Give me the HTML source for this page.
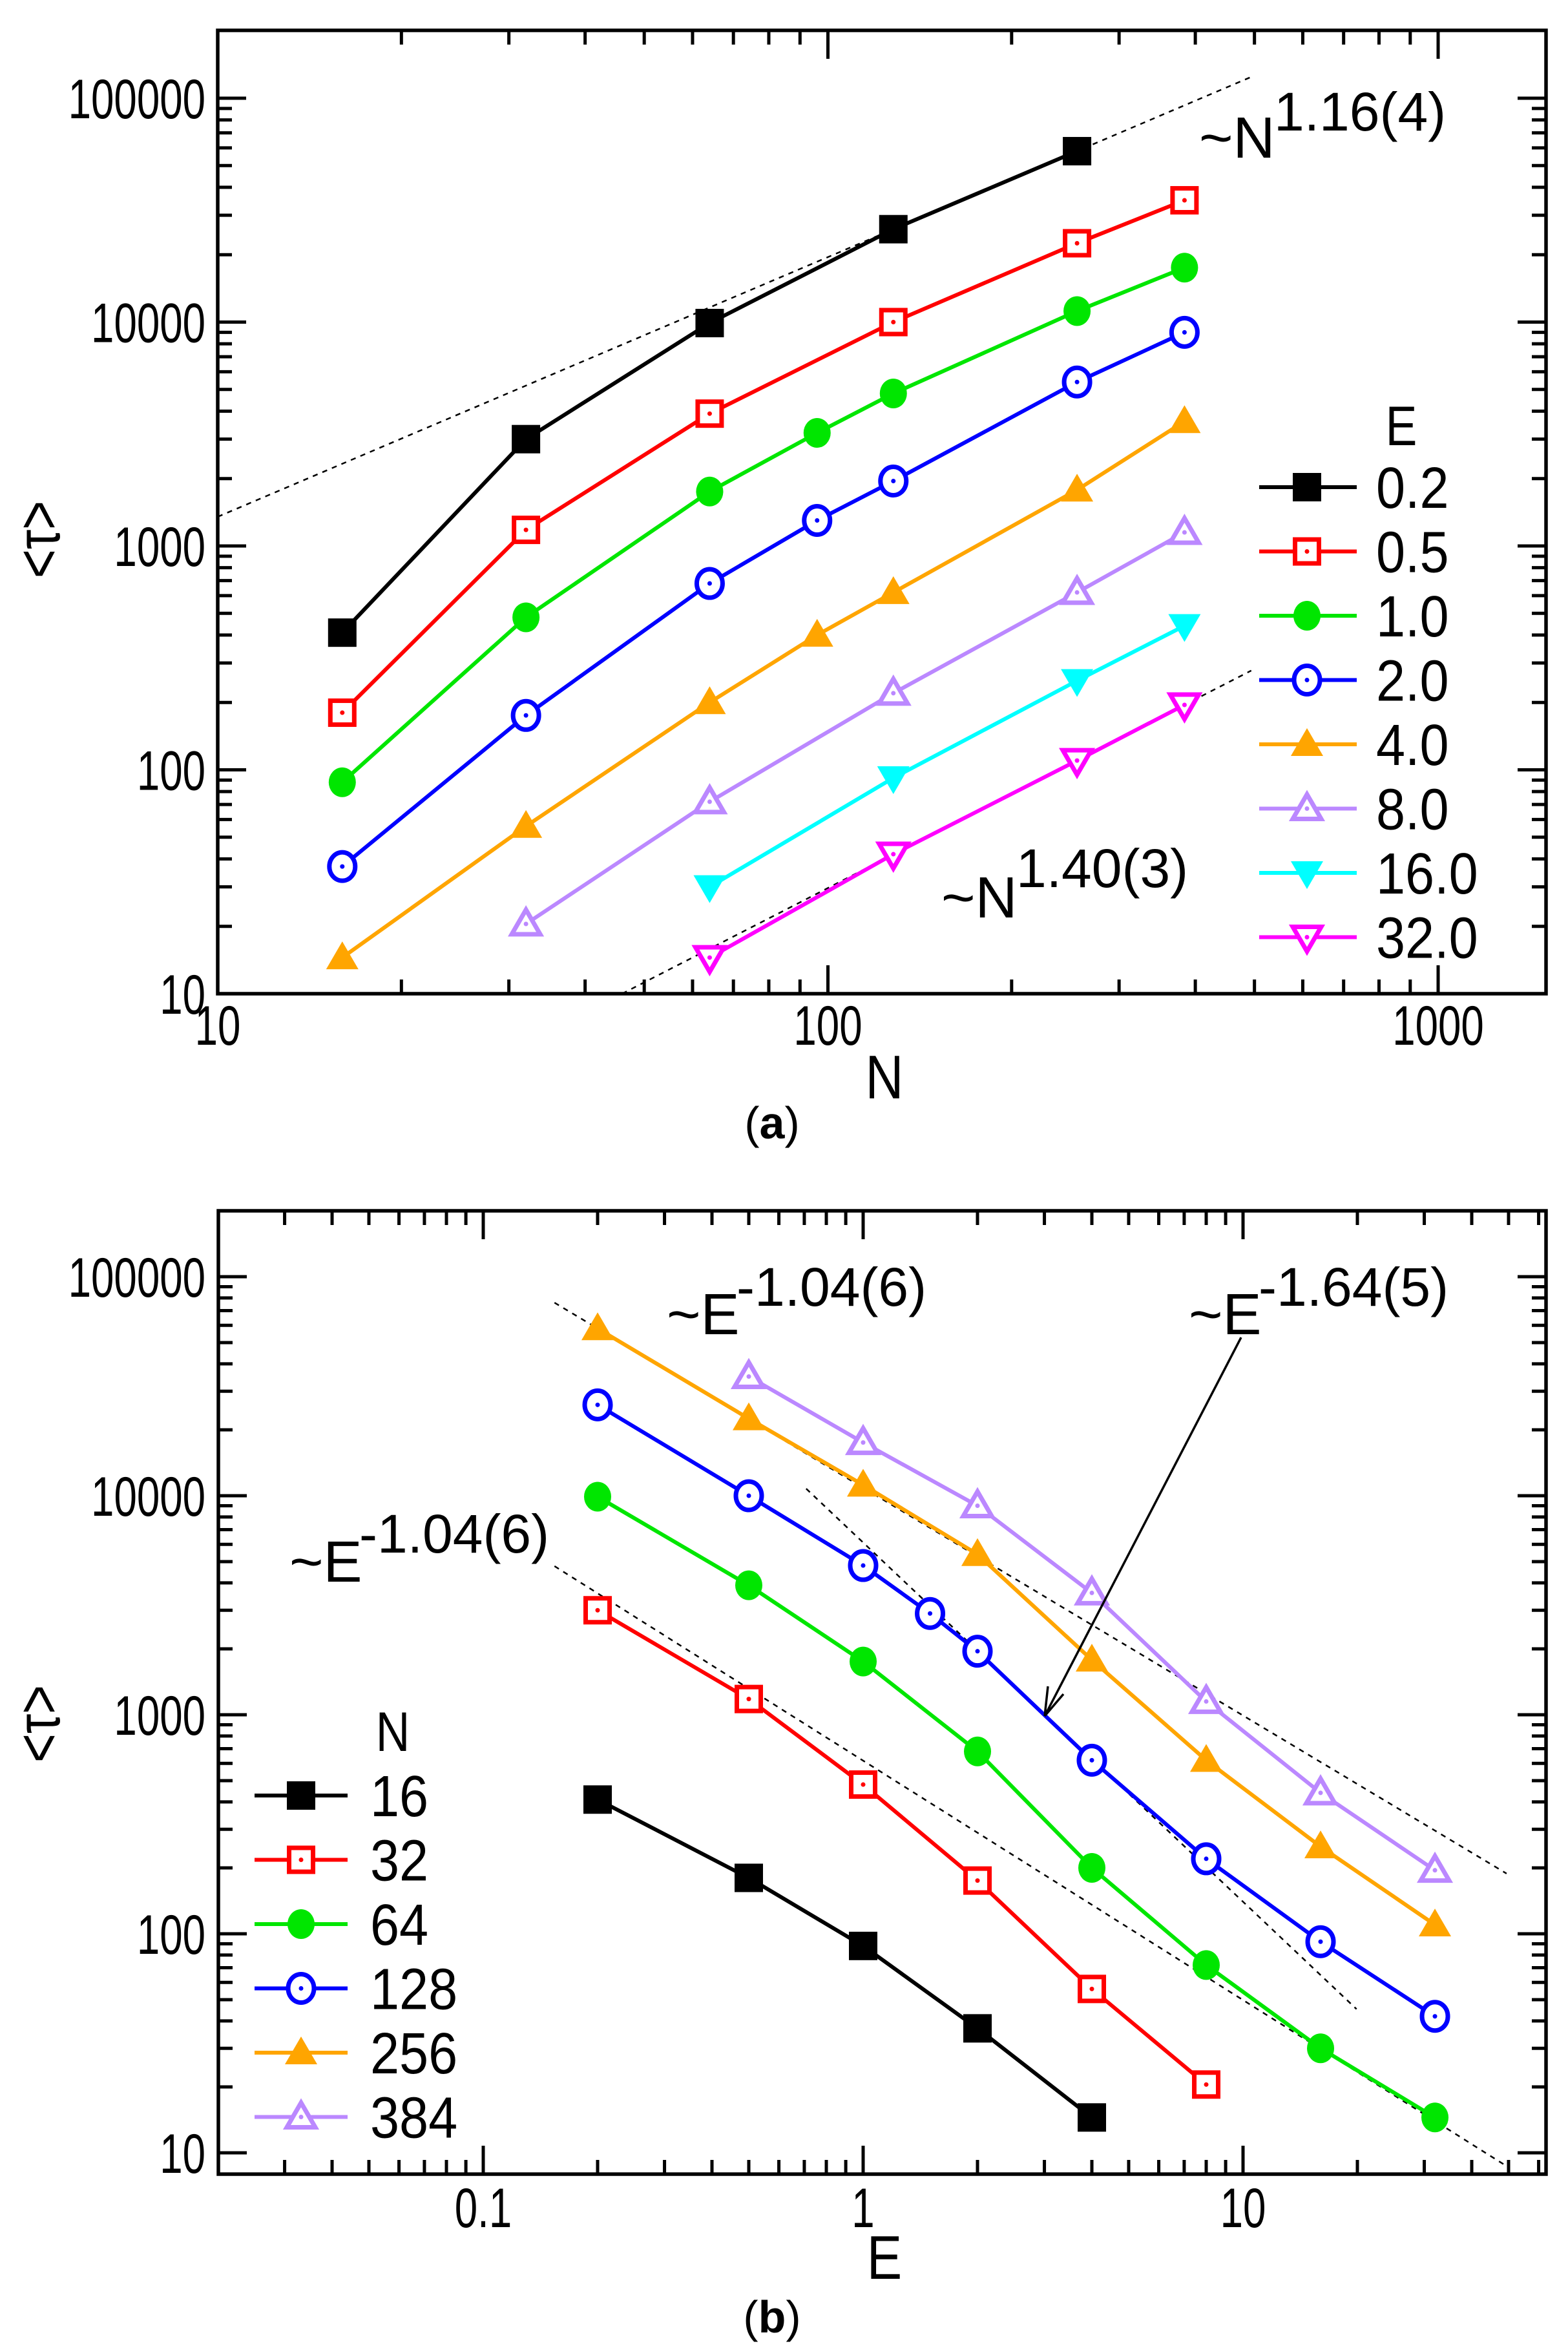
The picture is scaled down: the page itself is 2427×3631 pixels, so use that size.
<!DOCTYPE html>
<html><head><meta charset="utf-8"><style>
html,body{margin:0;padding:0;background:#fff;}
svg{display:block;}
text{font-family:"Liberation Sans",sans-serif;}
</style></head><body>
<svg id="fig" width="2427" height="3631" viewBox="0 0 2427 3631" xmlns="http://www.w3.org/2000/svg">
<rect x="0" y="0" width="2427" height="3631" fill="#fff"/>
<g id="pa"></g>
<g id="pb"></g>
</svg>
<script>
// ---------- Panel (a) data: tau vs N for each E ----------
const aEnergies = ["0.2","0.5","1.0","2.0","4.0","8.0","16.0","32.0"];
const aN_E02 = [16,32,64,128,256];
const aT_E02 = [410,3000,9900,26000,58000];
const aN_E05 = [16,32,64,128,256,384];
const aT_E05 = [180,1180,3900,10000,22500,35000];
const aN_E1 = [16,32,64,96,128,256,384];
const aT_E1 = [88,480,1750,3200,4800,11200,17500];
const aN_E2 = [16,32,64,96,128,256,384];
const aT_E2 = [37,175,680,1300,1950,5400,9000];
const aN_E4 = [16,32,64,96,128,256,384];
const aT_E4 = [14.5,56,200,400,620,1780,3600];
const aN_E8 = [32,64,128,256,384];
const aT_E8 = [20.5,72,220,620,1150];
const aN_E16 = [64,128,256,384];
const aT_E16 = [30,92,250,440];
const aN_E32 = [64,128,256,384];
const aT_E32 = [14.5,42,110,195];
const aXTicks = [10,100,1000];
const aXTickLabels = ["10","100","1000"];
const aYTicks = [10,100,1000,10000,100000];
const aYTickLabels = ["10","100","1000","10000","100000"];
const aFit1 = [10,1350,494,1.16];   // x0, y0, x1, exponent
const aFit2 = [46,10,494,1.40];

// ---------- Panel (b) data: tau vs E for each N ----------
const bSizes = ["16","32","64","128","256","384"];
const bE_N16 = [0.2,0.5,1,2,4];
const bT_N16 = [410,180,88,37,14.5];
const bE_N32 = [0.2,0.5,1,2,4,8];
const bT_N32 = [3000,1180,480,175,56,20.5];
const bE_N64 = [0.2,0.5,1,2,4,8,16,32];
const bT_N64 = [9900,3900,1750,680,200,72,30,14.5];
const bE_N128 = [0.2,0.5,1,1.5,2,4,8,16,32];
const bT_N128 = [26000,10000,4800,2900,1950,620,220,92,42];
const bE_N256 = [0.2,0.5,1,2,4,8,16,32];
const bT_N256 = [58000,22500,11200,5400,1780,620,250,110];
const bE_N384 = [0.5,1,2,4,8,16,32];
const bT_N384 = [35000,17500,9000,3600,1150,440,195];
const bXTicks = [0.1,1,10];
const bXTickLabels = ["0.1","1","10"];
const bYTicks = [10,100,1000,10000,100000];
const bYTickLabels = ["10","100","1000","10000","100000"];
const bFitUpper = [0.2,58000,0.154,49.4,-1.04];  // refE, refT, xStart, xEnd, exponent
const bFitLower = [0.154,4770,0.154,49.4,-1.093];
const bFitSteep = [0.708,10770,0.708,19.9,-1.64];

const NS="http://www.w3.org/2000/svg";
const L=Math.log10;
function mk(tag,attrs,parent){const e=document.createElementNS(NS,tag);for(const k in attrs)e.setAttribute(k,attrs[k]);parent.appendChild(e);return e;}
const xA=v=>337+944.5*L(v/10), yA=v=>1538-346.5*L(v/10);
const xB=v=>748+588*L(v/0.1), yB=v=>3332-339*L(v/10);

const COLORS={black:"#000",red:"#ff0000",green:"#00e600",blue:"#0000ff",orange:"#ffa500",lav:"#bb88ff",cyan:"#00ffff",mag:"#ff00ff"};

function marker(g,type,col,x,y){
  const s=22;
  let m;
  if(type==="sq") m=mk("rect",{x:x-s,y:y-s,width:2*s,height:2*s,fill:col},g);
  else if(type==="osq") m=mk("rect",{x:x-s+3.5,y:y-s+3.5,width:2*s-7,height:2*s-7,fill:"#fff",stroke:col,"stroke-width":7},g);
  else if(type==="circ") m=mk("ellipse",{cx:x,cy:y,rx:s-1,ry:s+1,fill:col},g);
  else if(type==="ocirc") m=mk("ellipse",{cx:x,cy:y,rx:s-2,ry:s,fill:"#fff",stroke:col,"stroke-width":7},g);
  else if(type==="tri") m=mk("polygon",{points:`${x},${y-25} ${x+25},${y+18} ${x-25},${y+18}`,fill:col},g);
  else if(type==="otri") m=mk("polygon",{points:`${x},${y-22} ${x+22},${y+16} ${x-22},${y+16}`,fill:"#fff",stroke:col,"stroke-width":7},g);
  else if(type==="dtri") m=mk("polygon",{points:`${x},${y+25} ${x+25},${y-18} ${x-25},${y-18}`,fill:col},g);
  else if(type==="odtri") m=mk("polygon",{points:`${x},${y+22} ${x+22},${y-16} ${x-22},${y-16}`,fill:"#fff",stroke:col,"stroke-width":7},g);
  
  
  if(type[0]==="o"){const d=mk("circle",{cx:x,cy:y,r:3.5,fill:col},g);
    
    }
}
function series(parent,name,xs,ys,xf,yf,col,type){
  const g=mk("g",{},parent);
  
  
  const pl=mk("polyline",{points:xs.map((v,i)=>xf(v)+","+yf(ys[i])).join(" "),fill:"none",stroke:col,"stroke-width":6,"stroke-linejoin":"round"},g);
  
  
  xs.forEach((v,i)=>marker(g,type,col,xf(v),yf(ys[i])));
}
function txt(parent,name,s,x,y,fs,anchor,sx,extra){
  const t=mk("text",{transform:`translate(${x},${y}) scale(${sx},1)`,"font-size":fs,"text-anchor":anchor||"start",fill:"#000"},parent);
  if(extra)for(const k in extra)t.setAttribute(k,extra[k]);
  t.textContent=s;
  
  
  return t;
}
function frameTicks(g,x0,x1,y0,y1,xf,yf,xMaj,xMin,yMaj,yMin){
  const f=mk("rect",{x:x0,y:y0,width:x1-x0,height:y1-y0,fill:"none",stroke:"#000","stroke-width":5.5},g);
  
  
  let d="";
  xMaj.forEach(v=>{const x=xf(v);d+=`M${x},${y1}v-44M${x},${y0}v44`;});
  xMin.forEach(v=>{const x=xf(v);if(x>x0+3&&x<x1-3)d+=`M${x},${y1}v-22M${x},${y0}v22`;});
  yMaj.forEach(v=>{const y=yf(v);d+=`M${x0},${y}h44M${x1},${y}h-44`;});
  yMin.forEach(v=>{const y=yf(v);if(y>y0+3&&y<y1-3)d+=`M${x0},${y}h22M${x1},${y}h-22`;});
  const p=mk("path",{d:d,stroke:"#000","stroke-width":5,fill:"none"},g);
  
  
}
function minors(decStart,decEnd){const r=[];for(let p=decStart;p<=decEnd;p++)for(let k=2;k<=9;k++)r.push(k*Math.pow(10,p));return r;}

// ===== Panel A =====
const pa=document.getElementById("pa");
frameTicks(pa,337,2393,47,1538,xA,yA,aXTicks,minors(1,2),aYTicks,minors(1,5));
aXTicks.forEach((v,i)=>txt(pa,"x-tick-label",aXTickLabels[i],xA(v),1617,86,"middle",0.74));
aYTicks.forEach((v,i)=>txt(pa,"y-tick-label",aYTickLabels[i],318,yA(v)+31,86,"end",0.74));
function fitA(f,name){const ln=mk("line",{x1:xA(f[0]),y1:yA(f[1]),x2:xA(f[2]),y2:yA(f[1]*Math.pow(f[2]/f[0],f[3])),stroke:"#000","stroke-width":2.5,"stroke-dasharray":"8 8"},pa);
  
  }
fitA(aFit1,"fit-line-n116");
fitA(aFit2,"fit-line-n140");
const aTypes=["sq","osq","circ","ocirc","tri","otri","dtri","odtri"];
const aCols=[COLORS.black,COLORS.red,COLORS.green,COLORS.blue,COLORS.orange,COLORS.lav,COLORS.cyan,COLORS.mag];
const aX=[aN_E02,aN_E05,aN_E1,aN_E2,aN_E4,aN_E8,aN_E16,aN_E32];
const aY=[aT_E02,aT_E05,aT_E1,aT_E2,aT_E4,aT_E8,aT_E16,aT_E32];
aX.forEach((xs,i)=>series(pa,"series-e-"+aEnergies[i].replace(".","-"),xs,aY[i],xA,yA,aCols[i],aTypes[i]));
txt(pa,"annotation-n116","~N",1856,244,90,"start",1);
txt(pa,"annotation-n116-exponent","1.16(4)",1972,202,84,"start",1);
txt(pa,"annotation-n140","~N",1457,1420,90,"start",1);
txt(pa,"annotation-n140-exponent","1.40(3)",1573,1373,84,"start",1);
txt(pa,"legend-title","E",2169,689,86,"middle",0.85);
aEnergies.forEach((lab,i)=>{
  const y=754+99.5*i;
  const g=mk("g",{},pa);
  
  
  const ln=mk("line",{x1:1949,y1:y,x2:2100,y2:y,stroke:aCols[i],"stroke-width":6},g);
  
  
  marker(g,aTypes[i],aCols[i],2023,y);
  txt(g,"legend-label",lab,2130,y+32,90,"start",0.9);
});
txt(pa,"x-axis-title","N",1369,1700,96,"middle",0.85);
const ya=txt(pa,"y-axis-title","<τ>",0,0,96,"middle",0.8,{});
ya.setAttribute("transform","translate(92,835) rotate(-90) scale(0.8,1)");
const ca=mk("text",{x:1195,y:1762,"font-size":70,"text-anchor":"middle","font-family":"Liberation Serif, serif"},pa);
ca.innerHTML='(<tspan font-weight="bold">a</tspan>)';



// ===== Panel B =====
const pb=document.getElementById("pb");
frameTicks(pb,338,2393,1874,3365,xB,yB,bXTicks,minors(-2,1),bYTicks,minors(1,5));
bXTicks.forEach((v,i)=>txt(pb,"x-tick-label",bXTickLabels[i],xB(v),3447,86,"middle",0.74));
bYTicks.forEach((v,i)=>txt(pb,"y-tick-label",bYTickLabels[i],318,yB(v)+31,86,"end",0.74));
function fitB(f,name){const yv=e=>f[1]*Math.pow(e/f[0],f[4]);
  const ln=mk("line",{x1:xB(f[2]),y1:yB(yv(f[2])),x2:xB(f[3]),y2:yB(yv(f[3])),stroke:"#000","stroke-width":2.5,"stroke-dasharray":"8 8"},pb);
  
  }
fitB(bFitUpper,"fit-line-upper");
fitB(bFitLower,"fit-line-lower");
fitB(bFitSteep,"fit-line-steep");
const bTypes=["sq","osq","circ","ocirc","tri","otri"];
const bCols=[COLORS.black,COLORS.red,COLORS.green,COLORS.blue,COLORS.orange,COLORS.lav];
const bX=[bE_N16,bE_N32,bE_N64,bE_N128,bE_N256,bE_N384];
const bY=[bT_N16,bT_N32,bT_N64,bT_N128,bT_N256,bT_N384];
bX.forEach((xs,i)=>series(pb,"series-n-"+bSizes[i],xs,bY[i],xB,yB,bCols[i],bTypes[i]));
txt(pb,"annotation-e104-top","~E",1032,2065,90,"start",1);
txt(pb,"annotation-e104-top-exponent","-1.04(6)",1140,2021,84,"start",1);
txt(pb,"annotation-e164","~E",1840,2065,90,"start",1);
txt(pb,"annotation-e164-exponent","-1.64(5)",1948,2021,84,"start",1);
txt(pb,"annotation-e104-left","~E",448,2448,90,"start",1);
txt(pb,"annotation-e104-left-exponent","-1.04(6)",556,2403,84,"start",1);
const ar=mk("path",{d:"M1921,2070 L1617,2656 M1617,2656 L1622,2610 M1617,2656 L1646,2622",stroke:"#000","stroke-width":3.5,fill:"none"},pb);


txt(pb,"legend-title","N",608,2710,86,"middle",0.85);
bSizes.forEach((lab,i)=>{
  const y=2779+99.5*i;
  const g=mk("g",{},pb);
  
  
  const ln=mk("line",{x1:394,y1:y,x2:538,y2:y,stroke:bCols[i],"stroke-width":6},g);
  
  
  marker(g,bTypes[i],bCols[i],466,y);
  txt(g,"legend-label",lab,573,y+32,90,"start",0.9);
});
txt(pb,"x-axis-title","E",1369,3527,96,"middle",0.85);
const yb=txt(pb,"y-axis-title","<τ>",0,0,96,"middle",0.8,{});
yb.setAttribute("transform","translate(92,2668) rotate(-90) scale(0.8,1)");
const cb=mk("text",{x:1195,y:3610,"font-size":70,"text-anchor":"middle","font-family":"Liberation Serif, serif"},pb);
cb.innerHTML='(<tspan font-weight="bold">b</tspan>)';


</script>
</body></html>
